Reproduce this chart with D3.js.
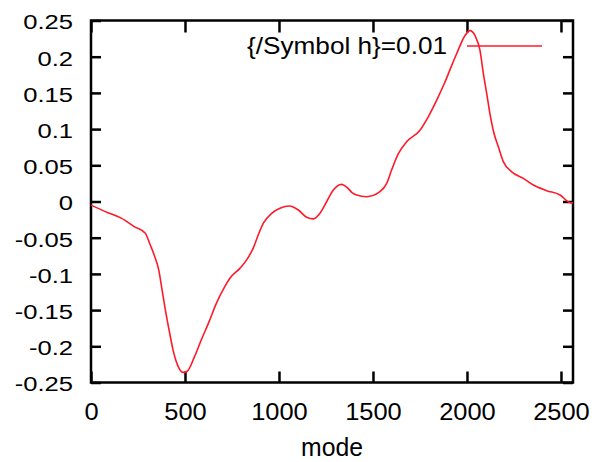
<!DOCTYPE html>
<html>
<head>
<meta charset="utf-8">
<script src="https://cdn.jsdelivr.net/npm/d3@7"></script>
<style>
  body { margin: 0; background: #fff; }
  svg { display: block; font-family: "Liberation Sans", Arial, sans-serif; }
</style>
</head>
<body>
<svg></svg>
<script>
// values
const modes = [0, 90, 161, 232, 289, 312, 339, 360, 378, 395, 415, 436, 459, 489, 512, 551, 587, 625,
  668, 713, 739, 793, 828, 863, 890, 917, 961, 1005, 1055, 1103, 1147, 1183, 1218, 1254, 1289, 1333,
  1360, 1390, 1413, 1466, 1537, 1573, 1599, 1635, 1679, 1750, 1794, 1839, 1883, 1919, 1945, 1989,
  2016, 2043, 2069, 2087, 2105, 2122, 2144, 2167, 2194, 2238, 2300, 2353, 2424, 2495, 2548, 2564];
const values = [-0.005, -0.0154, -0.023, -0.035, -0.044, -0.058, -0.076, -0.094, -0.122, -0.149, -0.177,
  -0.2045, -0.225, -0.236, -0.2344, -0.214, -0.191, -0.168, -0.140, -0.117, -0.106, -0.092, -0.0806,
  -0.0645, -0.046, -0.030, -0.0163, -0.0094, -0.0062, -0.0117, -0.0218, -0.024, -0.0163, 0.0, 0.0158,
  0.0237, 0.020, 0.012, 0.009, 0.0066, 0.0135, 0.025, 0.0434, 0.066, 0.0824, 0.0985, 0.117, 0.140,
  0.165, 0.188, 0.204, 0.229, 0.236, 0.229, 0.209, 0.177, 0.149, 0.1215, 0.094, 0.0755, 0.0548,
  0.041, 0.032, 0.0227, 0.015, 0.009, -0.0016, -0.002];
const xTicks = [0, 500, 1000, 1500, 2000, 2500];
const yTicks = [-0.25, -0.2, -0.15, -0.1, -0.05, 0, 0.05, 0.1, 0.15, 0.2, 0.25];
const xDomain = [0, 2564];
const yDomain = [-0.25, 0.25];
const seriesName = "{/Symbol h}=0.01";
const xLabel = "mode";

let width = 594;
let height = 462;
let plotLeft = 91, plotRight = 573, plotTop = 20.5, plotBottom = 382.5;
let svg = d3.select('svg');
let xScale;
let yScale;

function setCanvas(){
  svg.attr("width", width)
     .attr("height", height)
}

function createScales(){
  xScale = d3.scaleLinear()
             .domain(xDomain)
             .range([plotLeft, plotRight])
  yScale = d3.scaleLinear()
             .domain(yDomain)
             .range([plotBottom, plotTop])
}

function drawAxis(){
  let fmtY = (d) => String(+d.toFixed(2));

  // left with labels
  let yAxis = svg.append('g')
     .attr("transform", "translate(" + plotLeft + ",0)")
     .call(d3.axisLeft(yScale).tickValues(yTicks).tickFormat(fmtY).tickSize(-10).tickSizeOuter(0).tickPadding(18))
  yAxis.selectAll("text")
     .attr("font-size", 20)
     .attr("dy", "0.42em")
     .attr("x", -18 / 1.28)
     .attr("transform", "scale(1.28,1)")

  // right mirror
  svg.append('g')
     .attr("transform", "translate(" + plotRight + ",0)")
     .call(d3.axisRight(yScale).tickValues(yTicks).tickFormat("").tickSize(-10).tickSizeOuter(0))

  // bottom with labels
  let xAxis = svg.append('g')
     .attr("transform", "translate(0," + plotBottom + ")")
     .call(d3.axisBottom(xScale).tickValues(xTicks).tickFormat(d3.format("d")).tickSize(-11).tickSizeOuter(0).tickPadding(20))
  xAxis.selectAll("text")
     .attr("font-size", 24)
     .attr("transform", "scale(1.06,1)")

  // top mirror
  svg.append('g')
     .attr("transform", "translate(0," + plotTop + ")")
     .call(d3.axisTop(xScale).tickValues(xTicks).tickFormat("").tickSize(-12).tickSizeOuter(0))

  svg.selectAll(".tick line").attr("stroke", "#000").attr("stroke-width", 2.5)
  svg.selectAll(".domain").remove()
  svg.selectAll(".tick text").attr("fill", "#000")

  svg.append("rect")
     .attr("x", plotLeft)
     .attr("y", plotTop)
     .attr("width", plotRight - plotLeft)
     .attr("height", plotBottom - plotTop)
     .attr("fill", "none")
     .attr("stroke", "#000")
     .attr("stroke-width", 2.5)

  svg.append("text")
     .attr("x", (plotLeft + plotRight) / 2)
     .attr("y", 456)
     .attr("text-anchor", "middle")
     .attr("font-size", 26)
     .attr("textLength", 62)
     .attr("lengthAdjust", "spacingAndGlyphs")
     .text(xLabel)
}

function drawLine(){
  let points = modes.map((m, i) => [m, values[i]]);
  let line = d3.line()
               .x((d) => xScale(d[0]))
               .y((d) => yScale(d[1]))
               .curve(d3.curveMonotoneX)

  svg.append("path")
     .datum(points)
     .attr("d", line)
     .attr("fill", "none")
     .attr("stroke", "#ff1a2a")
     .attr("stroke-width", 1.6)
}

function drawLegend(){
  svg.append("text")
     .attr("x", 447)
     .attr("y", 54)
     .attr("text-anchor", "end")
     .attr("font-size", 24)
     .attr("textLength", 200)
     .attr("lengthAdjust", "spacingAndGlyphs")
     .text(seriesName)

  svg.append("line")
     .attr("x1", 467)
     .attr("x2", 542)
     .attr("y1", 46)
     .attr("y2", 46)
     .attr("stroke", "#ff1a2a")
     .attr("stroke-width", 1.6)
}

setCanvas();
createScales();
drawAxis();
drawLine();
drawLegend();
</script>
</body>
</html>
